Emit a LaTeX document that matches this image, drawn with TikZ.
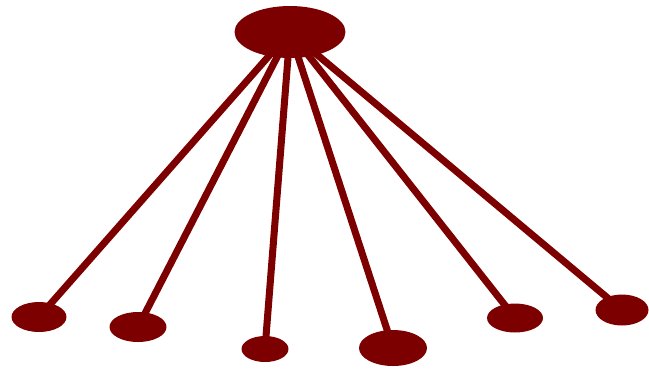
\documentclass[tikz,border=0pt]{standalone}
\usepackage{tikz}
\usetikzlibrary{shapes.geometric,backgrounds}
\definecolor{hubred}{HTML}{7D0000}

\begin{document}
\begin{tikzpicture}[x=0.02cm,y=-0.02cm,
  blob/.style={ellipse,fill=hubred,draw=none,inner sep=0pt},
  spoke/.style={draw=hubred,line width=4pt}]
\useasboundingbox (0,0) rectangle (649,370);
% hub and leaves
\node[blob,minimum width=2.22cm,minimum height=1.04cm] (hub) at (290,32) {};
\node[blob,minimum width=1.10cm,minimum height=0.60cm] (leafa) at (39,317) {};
\node[blob,minimum width=1.14cm,minimum height=0.60cm] (leafb) at (138,327) {};
\node[blob,minimum width=0.94cm,minimum height=0.52cm] (leafc) at (265,349) {};
\node[blob,minimum width=1.36cm,minimum height=0.72cm] (leafd) at (393,348) {};
\node[blob,minimum width=1.12cm,minimum height=0.58cm] (leafe) at (515,318) {};
\node[blob,minimum width=1.06cm,minimum height=0.62cm] (leaff) at (622,310) {};
% spokes behind the blobs
\begin{scope}[on background layer]
\foreach \leaf in {leafa,leafb,leafc,leafd,leafe,leaff}
  \draw[spoke] (hub.center) -- (\leaf.center);
\end{scope}
\end{tikzpicture}
\end{document}
